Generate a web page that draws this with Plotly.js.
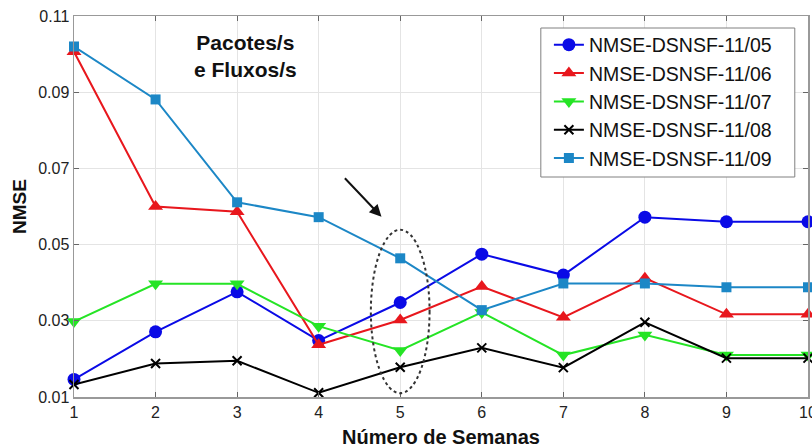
<!DOCTYPE html>
<html>
<head>
<meta charset="utf-8">
<script src="https://cdn.plot.ly/plotly-3.0.1.min.js"></script>
<style>
  html, body { margin: 0; padding: 0; background: #fff; overflow: hidden; }
  #chart { width: 812px; height: 448px; }
</style>
</head>
<body>
<div id="chart"></div>
<script>
// Weeks on the x axis
const semanas = [1, 2, 3, 4, 5, 6, 7, 8, 9, 10];

// NMSE per DSNSF day
const nmse_1105 = [0.0146, 0.0271, 0.0376, 0.0248, 0.0348, 0.0475, 0.0420, 0.0572, 0.0560, 0.0560];
const nmse_1106 = [0.1006, 0.0600, 0.0586, 0.0237, 0.0302, 0.0390, 0.0309, 0.0412, 0.0317, 0.0317];
const nmse_1107 = [0.0298, 0.0397, 0.0397, 0.0286, 0.0222, 0.0322, 0.0210, 0.0263, 0.0210, 0.0210];
const nmse_1108 = [0.0133, 0.0188, 0.0195, 0.0111, 0.0178, 0.0229, 0.0177, 0.0296, 0.0202, 0.0202];
const nmse_1109 = [0.1020, 0.0881, 0.0611, 0.0572, 0.0464, 0.0328, 0.0398, 0.0398, 0.0388, 0.0388];

const seriesNames = ['NMSE-DSNSF-11/05', 'NMSE-DSNSF-11/06', 'NMSE-DSNSF-11/07', 'NMSE-DSNSF-11/08', 'NMSE-DSNSF-11/09'];

// y tick labels
const yTickVals = [0.01, 0.03, 0.05, 0.07, 0.09, 0.11];
const yTickText = ['0.01', '0.03', '0.05', '0.07', '0.09', '0.11'];

const FONT = 'Arial, "Liberation Sans", Helvetica, sans-serif';

function serie(name, y, color, symbol, size, extra) {
  return Object.assign({
    type: 'scatter',
    mode: 'lines+markers',
    name: name,
    x: semanas,
    y: y,
    cliponaxis: false,
    line: { color: color, width: 2 },
    marker: { color: color, symbol: symbol, size: size, line: { width: 0 } }
  }, extra || {});
}

const traces = [
  serie(seriesNames[0], nmse_1105, '#0a0ae6', 'circle', 13),
  serie(seriesNames[1], nmse_1106, '#e8171d', 'triangle-up', 13),
  serie(seriesNames[2], nmse_1107, '#25e425', 'triangle-down', 13),
  serie(seriesNames[3], nmse_1108, '#000000', 'x-thin-open', 9, {
    marker: { color: '#000000', symbol: 'x-thin-open', size: 9, line: { width: 2, color: '#000000' } }
  }),
  serie(seriesNames[4], nmse_1109, '#1c87c6', 'square', 10)
];

const layout = {
  width: 812,
  height: 448,
  margin: { l: 74, r: 4, t: 16, b: 51 },
  paper_bgcolor: '#ffffff',
  plot_bgcolor: '#ffffff',
  font: { family: FONT, color: '#222' },
  showlegend: true,
  legend: {
    x: 0.647, y: 0.975, xanchor: 'left', yanchor: 'top',
    bgcolor: 'rgba(0,0,0,0)', borderwidth: 0,
    font: { family: FONT, size: 19.5, color: '#111' },
    tracegroupgap: 0
  },
  xaxis: {
    range: [1, 10],
    tickvals: semanas,
    ticks: 'inside', ticklen: 5, tickcolor: '#666',
    ticklabeloverflow: 'allow',
    showline: true, linecolor: '#999', linewidth: 1.5, mirror: 'ticks',
    showgrid: true, gridcolor: '#e4e4e4', gridwidth: 1,
    zeroline: false,
    tickfont: { family: FONT, size: 16, color: '#222' },
    title: { text: '<b>Número de Semanas</b>', font: { family: FONT, size: 20, color: '#111' }, standoff: 14 }
  },
  yaxis: {
    range: [0.01, 0.11],
    tickvals: yTickVals,
    ticktext: yTickText,
    ticks: 'inside', ticklen: 5, tickcolor: '#666',
    showline: true, linecolor: '#999', linewidth: 1.5, mirror: 'ticks',
    showgrid: true, gridcolor: '#e4e4e4', gridwidth: 1,
    zeroline: false,
    tickfont: { family: FONT, size: 16, color: '#222' },
    title: { text: '<b>NMSE</b>', font: { family: FONT, size: 19, color: '#111' }, standoff: 6 }
  },
  annotations: [
    {
      xref: 'paper', yref: 'paper', x: 0.233, y: 0.895,
      xanchor: 'center', yanchor: 'middle',
      text: '<b>Pacotes/s<br>e Fluxos/s</b>',
      showarrow: false,
      font: { family: FONT, size: 21, color: '#111' }
    },
    {
      xref: 'x', yref: 'y', x: 4.77, y: 0.0573,
      ax: -38, ay: -40,
      text: '',
      showarrow: true, arrowhead: 2, arrowsize: 1.2, arrowwidth: 2, arrowcolor: '#111'
    }
  ],
  shapes: [
    // legend frame
    {
      type: 'rect', xref: 'paper', yref: 'paper',
      x0: 0.636, x1: 0.982, y0: 0.5774, y1: 0.9685,
      fillcolor: '#ffffff', layer: 'above',
      line: { color: '#808080', width: 1 }
    },
    // highlight around week 5
    {
      type: 'circle', xref: 'x', yref: 'y',
      x0: 4.64, x1: 5.36, y0: 0.0110, y1: 0.0539,
      line: { color: '#333', width: 2, dash: 'dot' }
    }
  ]
};

Plotly.newPlot('chart', traces, layout, { displayModeBar: false, staticPlot: true });
</script>
</body>
</html>
